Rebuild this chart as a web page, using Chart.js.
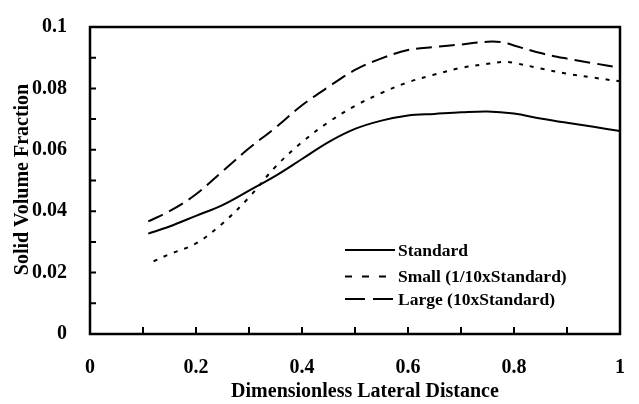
<!DOCTYPE html>
<html>
<head>
<meta charset="utf-8">
<script src="https://cdn.jsdelivr.net/npm/chart.js@4.4.0/dist/chart.umd.min.js"></script>
<style>
  html, body { margin: 0; padding: 0; background: #fff; }
  #wrap { width: 639px; height: 404px; }
</style>
</head>
<body>
<div id="wrap"><canvas id="myChart" width="639" height="404"></canvas></div>
<script>
// series data
const standardX = [0.11, 0.15, 0.2, 0.25, 0.3, 0.35, 0.4, 0.45, 0.5, 0.55, 0.6, 0.65, 0.7, 0.75, 0.8, 0.85, 0.9, 0.95, 1.0];
const standardY = [0.0327, 0.035, 0.0385, 0.042, 0.0467, 0.0515, 0.057, 0.0625, 0.0668, 0.0695, 0.0712, 0.0717, 0.0722, 0.0725, 0.0718, 0.0702, 0.0688, 0.0675, 0.0661];

const smallX = [0.12, 0.15, 0.2, 0.25, 0.3, 0.35, 0.4, 0.45, 0.5, 0.55, 0.6, 0.65, 0.7, 0.75, 0.78, 0.8, 0.85, 0.9, 0.95, 1.0];
const smallY = [0.0237, 0.026, 0.0295, 0.036, 0.0445, 0.0545, 0.0625, 0.069, 0.0743, 0.0785, 0.082, 0.0845, 0.0867, 0.088, 0.0886, 0.0883, 0.0865, 0.0848, 0.0835, 0.0823];

const largeX = [0.11, 0.15, 0.2, 0.25, 0.3, 0.35, 0.4, 0.45, 0.5, 0.55, 0.6, 0.65, 0.7, 0.75, 0.78, 0.8, 0.85, 0.9, 0.95, 1.0];
const largeY = [0.0367, 0.040, 0.0455, 0.053, 0.0605, 0.0672, 0.0745, 0.0805, 0.086, 0.0898, 0.0925, 0.0935, 0.0943, 0.0952, 0.095, 0.094, 0.0915, 0.0897, 0.0882, 0.0867];

const seriesNames = ["Standard", "Small (1/10xStandard)", "Large (10xStandard)"];

// tick values and labels
const xTickValues = [0, 0.1, 0.2, 0.3, 0.4, 0.5, 0.6, 0.7, 0.8, 0.9, 1];
const xTickLabels = ["0", "", "0.2", "", "0.4", "", "0.6", "", "0.8", "", "1"];
const yTickValues = [0, 0.01, 0.02, 0.03, 0.04, 0.05, 0.06, 0.07, 0.08, 0.09, 0.1];
const yTickLabels = ["0", "", "0.02", "", "0.04", "", "0.06", "", "0.08", "", "0.1"];

const xTitle = "Dimensionless Lateral Distance";
const yTitle = "Solid Volume Fraction";

const FONT = "'Liberation Serif', 'Times New Roman', serif";

const toPoints = (xs, ys) => xs.map((x, i) => ({ x: x, y: ys[i] }));

// dash patterns used in the plot and in the legend
const plotDashes = [[], [4, 7], [16, 7]];
const legendDashes = [[], [7, 10], [20, 8]];

// box, inward ticks, axis titles and the in-plot legend
const framePlugin = {
  id: "frame",
  afterDraw(chart) {
    const ctx = chart.ctx;
    const a = chart.chartArea;
    const xs = chart.scales.x;
    const ys = chart.scales.y;
    ctx.save();
    ctx.strokeStyle = "#000";
    ctx.lineWidth = 2.5;
    ctx.strokeRect(a.left, a.top, a.right - a.left, a.bottom - a.top);
    ctx.lineWidth = 2;
    ctx.beginPath();
    xTickValues.forEach((v) => {
      const px = xs.getPixelForValue(v);
      ctx.moveTo(px, a.bottom);
      ctx.lineTo(px, a.bottom - 7);
    });
    yTickValues.forEach((v) => {
      const py = ys.getPixelForValue(v);
      ctx.moveTo(a.left, py);
      ctx.lineTo(a.left + 6, py);
    });
    ctx.stroke();

    // axis titles
    ctx.fillStyle = "#000";
    ctx.font = "bold 20px " + FONT;
    ctx.textAlign = "center";
    ctx.textBaseline = "alphabetic";
    ctx.fillText(xTitle, (a.left + a.right) / 2 + 10, 397);
    ctx.save();
    ctx.translate(28, (a.top + a.bottom) / 2 - 1);
    ctx.rotate(-Math.PI / 2);
    ctx.fillText(yTitle, 0, 0);
    ctx.restore();

    // legend
    const lx0 = 345, lx1 = 395, tx = 398;
    const rows = [250, 276.5, 299];
    ctx.font = "bold 17.5px " + FONT;
    ctx.textAlign = "left";
    ctx.textBaseline = "middle";
    seriesNames.forEach((name, i) => {
      ctx.setLineDash(legendDashes[i]);
      ctx.lineWidth = 2;
      ctx.beginPath();
      ctx.moveTo(lx0, rows[i]);
      ctx.lineTo(lx1, rows[i]);
      ctx.stroke();
      ctx.setLineDash([]);
      ctx.fillText(name, tx, rows[i] + 1);
    });
    ctx.restore();
  },
};

const ctx = document.getElementById("myChart").getContext("2d");
const myChart = new Chart(ctx, {
  type: "line",
  data: {
    datasets: [
      { label: seriesNames[0], data: toPoints(standardX, standardY), borderDash: plotDashes[0] },
      { label: seriesNames[1], data: toPoints(smallX, smallY), borderDash: plotDashes[1] },
      { label: seriesNames[2], data: toPoints(largeX, largeY), borderDash: plotDashes[2] },
    ].map((d) => Object.assign(d, {
      borderColor: "#000",
      borderWidth: 2,
      pointRadius: 0,
      fill: false,
      tension: 0.35,
    })),
  },
  options: {
    responsive: false,
    animation: false,
    layout: { padding: { top: 18, right: 16, left: 0, bottom: 0 } },
    plugins: { legend: { display: false }, tooltip: { enabled: false } },
    scales: {
      x: {
        type: "linear",
        min: 0,
        max: 1,
        afterBuildTicks: (s) => { s.ticks = xTickValues.map((v) => ({ value: v })); },
        afterFit: (s) => { s.height = 70; },
        grid: { display: false },
        border: { display: false },
        ticks: {
          autoSkip: false,
          maxRotation: 0,
          padding: 14,
          color: "#000",
          font: { family: FONT, size: 20, weight: "bold" },
          callback: (v, i) => xTickLabels[i],
        },
      },
      y: {
        type: "linear",
        min: 0,
        max: 0.1,
        afterBuildTicks: (s) => { s.ticks = yTickValues.map((v) => ({ value: v })); },
        afterFit: (s) => { s.width = 90; },
        grid: { display: false },
        border: { display: false },
        ticks: {
          autoSkip: false,
          padding: 15,
          color: "#000",
          font: { family: FONT, size: 20, weight: "bold" },
          callback: (v, i) => yTickLabels[i],
        },
      },
    },
  },
  plugins: [framePlugin],
});
</script>
</body>
</html>
